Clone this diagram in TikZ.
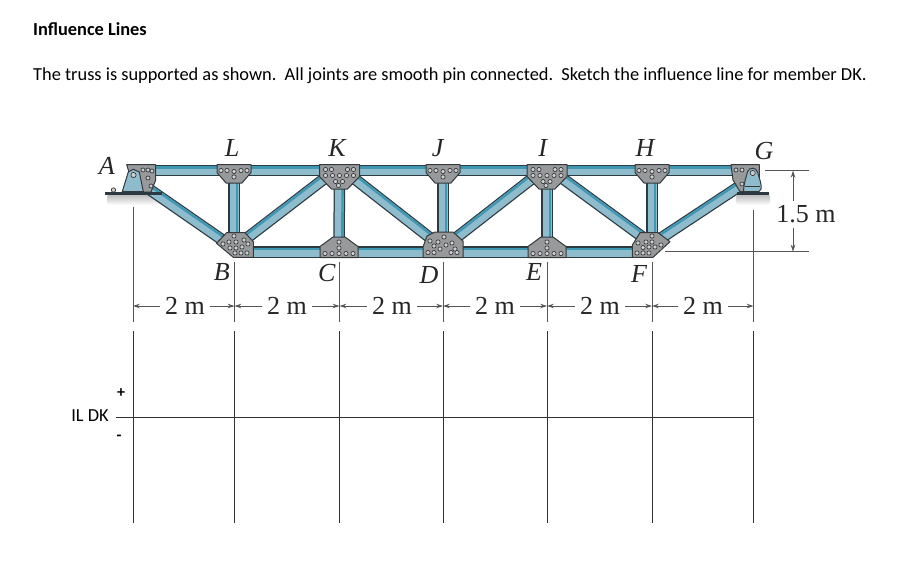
\documentclass[tikz,border=0pt]{standalone}
\usepackage{fontspec}
\setmainfont{Carlito}
\newfontfamily\serifx{Liberation Serif}
\usetikzlibrary{arrows.meta,calc}
\definecolor{memlight}{HTML}{8FBCCD}
\definecolor{memteal}{HTML}{3F97B3}
\definecolor{memdark}{HTML}{2C3A41}
\definecolor{plategray}{HTML}{98999B}
\definecolor{plateline}{HTML}{34393C}
\definecolor{rivetfill}{HTML}{CFCFD0}
\definecolor{dimline}{HTML}{555555}
\definecolor{gridline}{HTML}{333333}
\tikzset{
  x=1pt,y=-1pt,
  plate/.style={fill=plategray,draw=plateline,line width=1pt,line join=round},
  rivet/.style={fill=rivetfill,draw=plateline,line width=0.7pt},
  dimln/.style={draw=dimline,line width=0.8pt},
  dimarr/.style={draw=dimline,line width=0.9pt,-{Stealth[length=7pt,width=4.6pt]}},
  grid line/.style={draw=gridline,line width=0.9pt},
  jointlabel/.style={font=\serifx\itshape\fontsize{26}{26}\selectfont,text=black!85,inner sep=0pt},
  dimlabel/.style={font=\serifx\fontsize{26}{26}\selectfont,text=black!85,inner sep=0pt},
  bodytext/.style={font=\fontsize{18.37}{20}\selectfont,anchor=west,inner sep=0pt},
  titletext/.style={font=\bfseries\fontsize{18.37}{20}\selectfont,anchor=west,inner sep=0pt},
  iltext/.style={font=\fontsize{18.4}{20}\selectfont,inner sep=0pt},
  pics/topsmall/.style={code={
    \draw[plate] (-17,-6)--(17,-6)--(17,2)--(8,12.5)--(-8,12.5)--(-17,2)--cycle;
    \foreach \px/\py in {-13/0,-7/0,7/0,13/0,0/1,0/6.5}
      \draw[rivet] (\px,\py) circle (2.1pt);}},
  pics/topbig/.style={code={
    \draw[plate] (-20,-6)--(20,-6)--(20,6)--(8,18.5)--(-8,18.5)--(-20,6)--cycle;
    \foreach \px/\py in {-14/-1,-8/-1,8/-1,14/-1,-14/5,-7/5,0/5,7/5,14/5,-4/11,3/11,-1/15}
      \draw[rivet] (\px,\py) circle (2.1pt);}},
  pics/botsmall/.style={code={
    \draw[plate] (-19,-5.5)--(-6,-15)--(6,-15)--(19,-5.5)--(19,5.5)--(-19,5.5)--cycle;
    \foreach \px/\py in {-14/1.5,-7/1.5,0/1.5,7/1.5,14/1.5,0/-4,0/-10}
      \draw[rivet] (\px,\py) circle (2.1pt);}},
  pics/botD/.style={code={
    \draw[plate] (-20,-5)--(-16,-16)--(-8,-20)--(10,-20)--(20,-11)--(20,5.5)--(-20,5.5)--cycle;
    \foreach \px/\py in {-15/0.5,-9/0.5,8/0.5,14/0.5,-9/-6,-3/-3,3/-7,9/-9,-13/-11,-5/-10,1/-15,12/-3}
      \draw[rivet] (\px,\py) circle (2.1pt);}},
  pics/botB/.style={code={
    \draw[plate] (-17.5,-8.7)--(-7.5,-19.3)--(11,-19.3)--(19.3,-10.3)--(19.3,5.3)--(-0.7,5.3)--cycle;
    \foreach \px/\py in {1/1,7/1,13/1,-4/-4,2/-4,8/-5,14/-8,-11/-8,-5/-10,2/-10,0/-16,10/-12}
      \draw[rivet] (\px,\py) circle (2.1pt);}},
  pics/botF/.style={code={
    \draw[plate] (-19.7,-7)--(-12,-19.3)--(6,-19.3)--(18,-10.3)--(1,5.3)--(-19.7,5.3)--cycle;
    \foreach \px/\py in {-15/1,-9/1,-3/1,-9/-4.5,-3/-5,3/-5,9/-7,-14/-9,-6/-10,0/-10,0/-16}
      \draw[rivet] (\px,\py) circle (2.1pt);}}
}
\newcommand{\member}[2]{%
  \draw[memdark,line width=11.5pt] (#1)--(#2);
  \draw[memlight,line width=9pt] (#1)--(#2);
  \draw[memteal,line width=2.4pt] ($(#1)!3.2pt!90:(#2)$)--($(#2)!3.2pt!-90:(#1)$);
}
\newcommand{\diagmember}[2]{%
  \coordinate (dgs) at ($(#1)!9pt!(#2)$);
  \coordinate (dge) at ($(#2)!9pt!(#1)$);
  \member{dgs}{dge}
}
\begin{document}
\begin{tikzpicture}
\useasboundingbox (0,0) rectangle (924,566);
\fill[white] (0,0) rectangle (924,566);

% texts
\node[titletext] (title) at (33,29) {Influence Lines};
\node[bodytext] (prob) at (33,75.5) {The truss is supported as shown.\ \ All joints are smooth pin connected.\ \ Sketch the influence line for member DK.};

% joints
\coordinate (A) at (141,170.5);
\coordinate (L) at (234,170.5);
\coordinate (K) at (339.5,170.5);
\coordinate (J) at (443,170.5);
\coordinate (I) at (547,170.5);
\coordinate (H) at (652,170.5);
\coordinate (G) at (745,170.5);
\coordinate (B) at (234,252);
\coordinate (C) at (339,252);
\coordinate (D) at (443,252);
\coordinate (E) at (547,252);
\coordinate (F) at (652,252);
% diagonal working points
\coordinate (Ad) at (133,178);
\coordinate (Bd) at (234,248);
\coordinate (Kd) at (339.5,167);
\coordinate (Dd) at (443,248);
\coordinate (Id) at (547,167);
\coordinate (Fd) at (652,244);
\coordinate (Gd) at (752,178);

% support shadows
\shade[top color=black!28,bottom color=white,rounded corners=3pt] (107,194) rectangle (164,205);
\shade[top color=black!28,bottom color=white,rounded corners=3pt] (736,194) rectangle (770,205);

% members
\member{A}{L}\member{L}{K}\member{K}{J}\member{J}{I}\member{I}{H}\member{H}{G}
\member{B}{C}\member{C}{D}\member{D}{E}\member{E}{F}
\member{L}{B}\member{K}{C}\member{J}{D}\member{I}{E}\member{H}{F}
\diagmember{Ad}{Bd}\diagmember{Bd}{Kd}\diagmember{Kd}{Dd}\diagmember{Dd}{Id}\diagmember{Id}{Fd}\diagmember{Fd}{Gd}

% gusset plates
\pic at (L) {topsmall};
\pic at (J) {topsmall};
\pic at (H) {topsmall};
\pic at (K) {topbig};
\pic at (I) {topbig};
\pic at (C) {botsmall};
\pic at (E) {botsmall};
\pic at (D) {botD};
\pic at (B) {botB};
\pic at (F) {botF};

% left support
\draw[plate] (126.7,164.7)--(155.7,164.7)--(155.7,180)--(151,192)--(135,192)--cycle;
\foreach \px/\py in {143/170,148/170,152/171,148/178,151/186}
  \draw[rivet] (\px,\py) circle (2pt);
\draw[plateline,fill=memlight,line width=1pt] (122.3,191.5)--(128.3,172)--(133.3,169.3)--(139.3,172)--(143.3,191.5)--cycle;
\draw[rivet] (133.5,175) circle (2.6pt);
\draw[rivet] (113.5,190) circle (2.2pt);
\draw[memdark,line width=2.4pt] (105,193.5)--(162,193.5);

% right support
\draw[plate] (731,164.7)--(759.3,164.7)--(759.3,183)--(755,191.7)--(740,191.7)--(733,180)--cycle;
\foreach \px/\py in {736/170,742/170,742/184}
  \draw[rivet] (\px,\py) circle (2pt);
\draw[plateline,fill=memlight,line width=1pt] (743.5,191.5)..controls (744,182) and (746,178) .. (747.5,172) .. controls (749,167) and (756,167) .. (757.5,172) .. controls (759,178) and (762,184) .. (761,189) -- (759,191.5)--cycle;
\draw[plateline,line width=0.7pt] (745,186.5)--(760,186.5);
\draw[rivet] (752.7,173) circle (2.6pt);
\draw[memdark,line width=2.4pt] (737,193.5)--(768.5,193.5);

% joint labels
\node[jointlabel] (lA) at (106.7,166) {A};
\node[jointlabel] (lL) at (232,148) {L};
\node[jointlabel] (lK) at (337,147.5) {K};
\node[jointlabel] (lJ) at (437.7,148) {J};
\node[jointlabel] (lI) at (542.7,147.5) {I};
\node[jointlabel] (lH) at (645,147.5) {H};
\node[jointlabel] (lG) at (764,151) {G};
\node[jointlabel] (lB) at (221.7,272) {B};
\node[jointlabel] (lC) at (326.7,273) {C};
\node[jointlabel] (lD) at (429,275) {D};
\node[jointlabel] (lE) at (534,272) {E};
\node[jointlabel] (lF) at (639,274) {F};

% extension lines
\foreach \n/\x/\t in {a/133/207,b/234.5/262,c/339.5/262,d/443/262,e/547/262,f/652/262,g/753.5/210}{
  \coordinate (x\n t) at (\x,\t);
  \coordinate (x\n b) at (\x,322);
  \coordinate (x\n m) at (\x,306);
  \draw[dimln] (x\n t)--(x\n b);
}
% 2 m dimensions
\node[dimlabel,inner xsep=5pt] (dab) at (185,305.5) {2 m};
\node[dimlabel,inner xsep=5pt] (dbc) at (287,305.5) {2 m};
\node[dimlabel,inner xsep=5pt] (dcd) at (392,305.5) {2 m};
\node[dimlabel,inner xsep=5pt] (dde) at (495,305.5) {2 m};
\node[dimlabel,inner xsep=5pt] (def) at (600,305.5) {2 m};
\node[dimlabel,inner xsep=5pt] (dfg) at (703,305.5) {2 m};
\draw[dimarr] (dab.west|-xam)--(xam);\draw[dimarr] (dab.east|-xam)--(xbm);
\draw[dimarr] (dbc.west|-xam)--(xbm);\draw[dimarr] (dbc.east|-xam)--(xcm);
\draw[dimarr] (dcd.west|-xam)--(xcm);\draw[dimarr] (dcd.east|-xam)--(xdm);
\draw[dimarr] (dde.west|-xam)--(xdm);\draw[dimarr] (dde.east|-xam)--(xem);
\draw[dimarr] (def.west|-xam)--(xem);\draw[dimarr] (def.east|-xam)--(xfm);
\draw[dimarr] (dfg.west|-xam)--(xfm);\draw[dimarr] (dfg.east|-xam)--(xgm);

% 1.5 m dimension
\coordinate (hTl) at (765,170.7);
\coordinate (hTr) at (809,170.7);
\coordinate (hBl) at (665,251.7);
\coordinate (hBr) at (809,251.7);
\coordinate (vT) at (793,170.7);
\coordinate (vB) at (793,251.7);
\coordinate (vTs) at (793,200.5);
\coordinate (vBs) at (793,227.5);
\draw[dimln] (hTl)--(hTr);
\draw[dimln] (hBl)--(hBr);
\node[dimlabel] (d15) at (806,214.5) {1.5 m};
\draw[dimarr] (vTs)--(vT);
\draw[dimarr] (vBs)--(vB);

% influence line grid
\foreach \n/\x in {a/133,b/234.5,c/339,d/443,e/547,f/652,g/753}{
  \coordinate (g\n t) at (\x,331);
  \coordinate (g\n b) at (\x,522.5);
  \draw[grid line] (g\n t)--(g\n b);
}
\coordinate (bl) at (116,417);
\coordinate (br) at (753,417);
\draw[grid line] (bl)--(br);
\node[iltext] (il) at (90,415.5) {IL DK};
\node[font=\bfseries\fontsize{16}{16}\selectfont,inner sep=0pt] (plus) at (121,393) {+};
\node[font=\bfseries\fontsize{16}{16}\selectfont,inner sep=0pt] (minus) at (119,437.5) {-};
\end{tikzpicture}
\end{document}
